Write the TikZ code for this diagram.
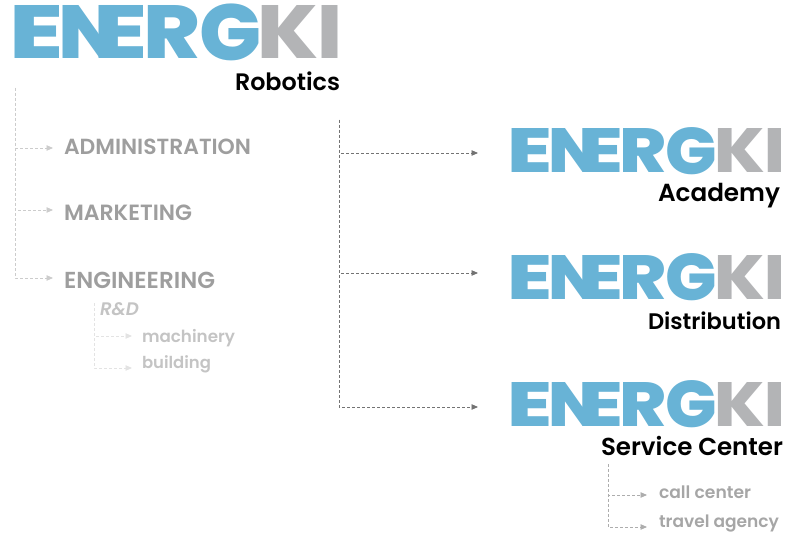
\documentclass[tikz,border=0pt]{standalone}
\usepackage{fontspec}
\usepackage{graphicx}
\usetikzlibrary{arrows.meta}
\setmainfont{Poppins}[BoldFont=* SemiBold,BoldItalicFont=* SemiBold Italic]
\newfontfamily\logofont{Poppins}[BoldFont=* ExtraBold]
\definecolor{logoblue}{HTML}{68B3D6}
\definecolor{logogray}{HTML}{B3B4B6}
% one letter of the logo: colour, x, width, height, drop, letter
\newcommand{\lgl}[6]{\makebox[0pt][l]{\kern #2pt\raisebox{-#5pt}[0pt][0pt]{\textcolor{#1}{\resizebox*{#3pt}{#4pt}{\logofont\bfseries #6}}}}}
\newcommand{\logotext}[1]{\scalebox{#1}{\makebox[324pt][l]{\rule{0pt}{53pt}%
\lgl{logoblue}{-5}{54}{53}{0}{E}%
\lgl{logoblue}{44}{62}{53}{0}{N}%
\lgl{logoblue}{80}{54}{53}{0}{E}%
\lgl{logoblue}{129}{57}{53}{0}{R}%
\lgl{logoblue}{185}{62}{57}{1.5}{G}%
\lgl{logogray}{244}{61}{53}{0}{K}%
\lgl{logogray}{304}{25}{53}{0}{I}}}}
\newcommand{\fitw}[2]{\resizebox{#1pt}{!}{#2}}
\tikzset{
  x=1pt,y=-1pt,
  logo/.style={inner sep=0pt,outer sep=0pt,anchor=south west},
  lbl/.style={inner sep=0pt,outer sep=0pt,anchor=base west},
  company/.style={lbl,text=black,font=\bfseries},
  dept/.style={lbl,text=black!38,font=\bfseries},
  subdept/.style={lbl,text=black!23,font=\bfseries},
  service/.style={lbl,text=black!35,font=\bfseries},
  trunk/.style={dash pattern=on 3pt off 2pt,line width=.9pt},
  conn/.style={trunk,-{Triangle[length=6.5pt,width=5.5pt]}},
  cdark/.style={draw=black!55},
  cmid/.style={draw=black!32},
  clight/.style={draw=black!20},
  cpale/.style={draw=black!11},
}
\begin{document}
\begin{tikzpicture}
\useasboundingbox (0,0) rectangle (800,540);
% logos
\node[logo] (logoA) at (14,59) {\logotext{1}};
\node[logo] (logoB) at (512,173) {\logotext{0.83}};
\node[logo] (logoC) at (512,299) {\logotext{0.83}};
\node[logo] (logoD) at (512,426) {\logotext{0.83}};
% company labels
\node[company] (robotics) at (235,91) {\fitw{105}{Robotics}};
\node[company] (academy) at (658,201) {\fitw{122}{Academy}};
\node[company] (distribution) at (648,329) {\fitw{133}{Distribution}};
\node[company] (servicecenter) at (601,455) {\fitw{182}{Service Center}};
% departments
\node[dept] (admin) at (64,155) {\fitw{187}{ADMINISTRATION}};
\node[dept] (marketing) at (64,221) {\fitw{128}{MARKETING}};
\node[dept] (engineering) at (64,288) {\fitw{151}{ENGINEERING}};
\node[subdept] (rd) at (100,315) {\fitw{39}{\itshape R\&D}};
\node[subdept] (machinery) at (142,342) {\fitw{93}{machinery}};
\node[subdept] (building) at (142,368) {\fitw{69}{building}};
\node[service] (callcenter) at (659,498) {\fitw{92}{call center}};
\node[service] (travel) at (659,527) {\fitw{120}{travel agency}};
% connector anchors
\coordinate (rootL) at (15,88);
\coordinate (adminIn) at (53,148);
\coordinate (marketingIn) at (53,210);
\coordinate (engineeringIn) at (53,278);
\coordinate (rootRD) at (94,303);
\coordinate (machineryIn) at (132,336);
\coordinate (buildingIn) at (132,368);
\coordinate (rootR) at (339,120);
\coordinate (academyIn) at (478,153);
\coordinate (distributionIn) at (478,273);
\coordinate (serviceIn) at (478,407);
\coordinate (rootS) at (608,464);
\coordinate (callIn) at (647,495);
\coordinate (travelIn) at (647,527);
% connectors
\draw[conn,clight] (rootL) |- (adminIn);
\draw[conn,clight] (rootL) |- (marketingIn);
\draw[conn,clight] (rootL) |- (engineeringIn);
\draw[conn,cpale] (rootRD) |- (machineryIn);
\draw[conn,cpale] (rootRD) |- (buildingIn);
\draw[conn,cdark] (rootR) |- (academyIn);
\draw[conn,cdark] (rootR) |- (distributionIn);
\draw[conn,cdark] (rootR) |- (serviceIn);
\draw[conn,cmid] (rootS) |- (callIn);
\draw[conn,cmid] (rootS) |- (travelIn);
\end{tikzpicture}
\end{document}
